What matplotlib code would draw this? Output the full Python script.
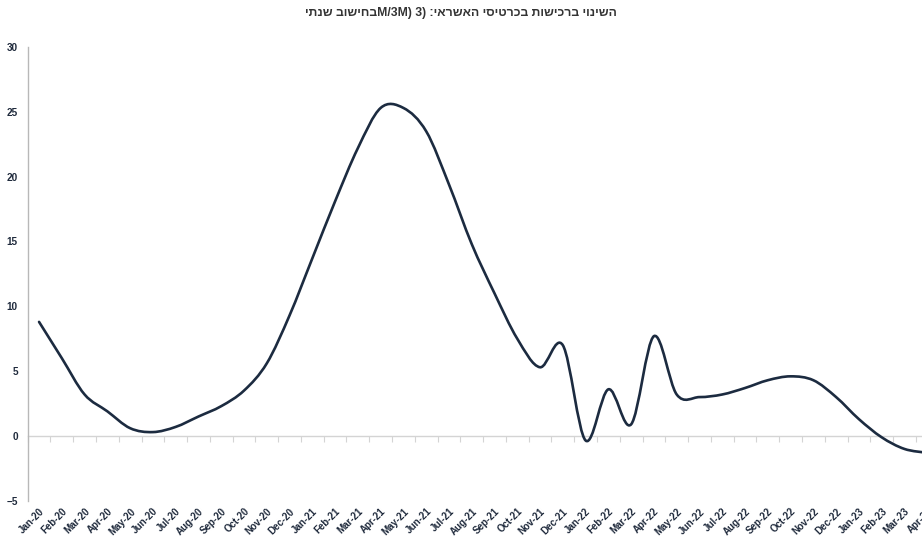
import re

import matplotlib
matplotlib.use("Agg")
import matplotlib.pyplot as plt
from matplotlib.path import Path
from matplotlib.patches import PathPatch

plt.rcParams["font.family"] = ["Liberation Sans", "DejaVu Sans"]

# ── data ──
MONTHS = [
    "Jan-20", "Feb-20", "Mar-20", "Apr-20", "May-20", "Jun-20", "Jul-20", "Aug-20",
    "Sep-20", "Oct-20", "Nov-20", "Dec-20", "Jan-21", "Feb-21", "Mar-21", "Apr-21",
    "May-21", "Jun-21", "Jul-21", "Aug-21", "Sep-21", "Oct-21", "Nov-21", "Dec-21",
    "Jan-22", "Feb-22", "Mar-22", "Apr-22", "May-22", "Jun-22", "Jul-22", "Aug-22",
    "Sep-22", "Oct-22", "Nov-22", "Dec-22", "Jan-23", "Feb-23", "Mar-23", "Apr-23",
]
CHANGE = [
    8.8, 6.0, 3.2, 1.9, 0.6, 0.3, 0.7, 1.5,
    2.3, 3.5, 5.6, 9.3, 13.7, 18.1, 22.2, 25.3,
    25.3, 23.5, 19.4, 14.8, 11.0, 7.5, 5.3, 7.0,
    -0.35, 3.6, 0.9, 7.7, 3.2, 3.0, 3.2, 3.7,
    4.3, 4.6, 4.3, 3.0, 1.3, -0.1, -1.0, -1.3,
]
Y_TICKS = [-5, 0, 5, 10, 15, 20, 25, 30]

# title as it appears in the reference (logical order, rendered RTL below)
TITLE = "השינוי ברכישות בכרטיסי האשראי: (3 (M/3Mבחישוב שנתי"

LINE_COLOR = "#1c2b40"
LABEL_COLOR = "#1f2a3c"


def rtl_visual(text):
    # matplotlib has no bidi support: flip to visual order, keep latin runs LTR
    rev = text[::-1]
    rev = re.sub(r"[A-Za-z0-9/]+", lambda m: m.group(0)[::-1], rev)
    return rev.translate(str.maketrans("()", ")("))


def smooth_path(xs, ys):
    # Catmull-Rom style bezier, like a spreadsheet "smoothed line"
    pts = list(zip(xs, ys))
    verts = [pts[0]]
    codes = [Path.MOVETO]
    n = len(pts)
    for i in range(n - 1):
        p0 = pts[i - 1] if i > 0 else pts[i]
        p1 = pts[i]
        p2 = pts[i + 1]
        p3 = pts[i + 2] if i + 2 < n else pts[i + 1]
        c1 = (p1[0] + (p2[0] - p0[0]) / 6, p1[1] + (p2[1] - p0[1]) / 6)
        c2 = (p2[0] - (p3[0] - p1[0]) / 6, p2[1] - (p3[1] - p1[1]) / 6)
        verts += [c1, c2, p2]
        codes += [Path.CURVE4] * 3
    return Path(verts, codes)


fig = plt.figure(figsize=(9.22, 5.41), dpi=100)
# plot area runs past the right edge, as in the reference crop
ax = fig.add_axes([0.030, 0.0743, 0.988, 0.8388])

x = list(range(len(MONTHS)))
patch = PathPatch(smooth_path(x, CHANGE), facecolor="none",
                  edgecolor=LINE_COLOR, linewidth=1.9, capstyle="round",
                  joinstyle="round", zorder=3)
ax.add_patch(patch)

ax.set_xlim(-0.5, len(MONTHS) - 0.5)
ax.set_ylim(-5, 30)

# y axis
ax.set_yticks(Y_TICKS)
ax.tick_params(axis="y", length=0, pad=7, labelsize=7.2, labelcolor=LABEL_COLOR)
for lab in ax.get_yticklabels():
    lab.set_fontweight("bold")
ax.spines["left"].set_color("#b8b8b8")
ax.spines["left"].set_linewidth(1.0)
for side in ("top", "right", "bottom"):
    ax.spines[side].set_visible(False)

# x labels at the bottom
ax.set_xticks(x)
ax.set_xticklabels(MONTHS, rotation=45, ha="right", rotation_mode="anchor",
                   fontsize=7.0, fontweight="bold", color=LABEL_COLOR)
ax.tick_params(axis="x", length=0, pad=4)

# category axis drawn through zero, tick marks between months
zero_axis = ax.secondary_xaxis(0, transform=ax.transData)
zero_axis.set_xticks([i + 0.5 for i in range(-1, len(MONTHS))])
zero_axis.set_xticklabels([])
zero_axis.tick_params(axis="x", direction="out", length=4, width=0.8,
                      color="#d4d4d4")
zero_axis.spines["bottom"].set_color("#d4d4d4")
zero_axis.spines["bottom"].set_linewidth(1.0)

fig.text(0.5, 0.976, rtl_visual(TITLE), ha="center", va="center",
         fontsize=8.8, fontweight="bold", color="#333333")

fig.savefig("out.png", dpi=100)
plt.close(fig)
